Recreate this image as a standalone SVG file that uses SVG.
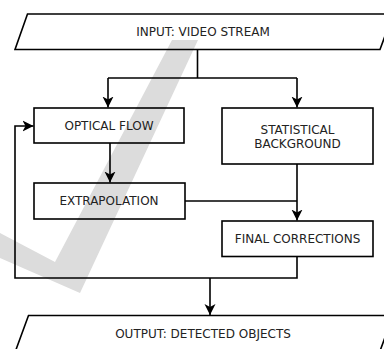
<svg xmlns="http://www.w3.org/2000/svg" width="384" height="349" viewBox="0 0 384 349">
  <style>
    .box { fill: none; stroke: #000; stroke-width: 1.6; }
    .lbl { font-family: "DejaVu Sans", "Liberation Sans", sans-serif; font-size: 12px; fill: #222; text-anchor: middle; }
    .con { fill: none; stroke: #000; stroke-width: 1.6; }
    .wm { fill: #dcdcdc; }
  </style>
  <defs>
    <marker id="arr" markerWidth="12" markerHeight="12" refX="11" refY="6" orient="auto" markerUnits="userSpaceOnUse">
      <path d="M0,0.5 L11,6 L0,11.5 L3,6 z" fill="#000"/>
    </marker>
  </defs>
  <rect width="384" height="349" fill="#fff"/>
  <g id="watermark">
    <polygon class="wm" points="0,233 55,262 172,40 198,40 80,293 0,258"/>
  </g>
  <g id="connectors">
    <path class="con" d="M197.5,49.5 V78"/>
    <path class="con" d="M108,78 H297"/>
    <path class="con" d="M108,78 V107.5" marker-end="url(#arr)"/>
    <path class="con" d="M297,78 V107.5" marker-end="url(#arr)"/>
    <path class="con" d="M110,143 V182.5" marker-end="url(#arr)"/>
    <path class="con" d="M185,201 H297"/>
    <path class="con" d="M297,164 V220.5" marker-end="url(#arr)"/>
    <path class="con" d="M297,256.5 V278 H15 V126 H33.5" marker-end="url(#arr)"/>
    <path class="con" d="M210,278 V315" marker-end="url(#arr)"/>
  </g>
  <g id="input">
    <polygon class="box" points="27.5,14 393,14 380,49.5 15,49.5"/>
    <text class="lbl" x="203" y="35.5">INPUT: VIDEO STREAM</text>
  </g>
  <g id="optical-flow">
    <rect class="box" x="34" y="108" width="150" height="35"/>
    <text class="lbl" x="109" y="130">OPTICAL FLOW</text>
  </g>
  <g id="statistical-background">
    <rect class="box" x="222" y="108" width="151" height="56"/>
    <text class="lbl" x="297.5" y="133.5">STATISTICAL</text>
    <text class="lbl" x="297.5" y="147.5">BACKGROUND</text>
  </g>
  <g id="extrapolation">
    <rect class="box" x="34" y="183" width="151" height="36"/>
    <text class="lbl" x="109" y="205">EXTRAPOLATION</text>
  </g>
  <g id="final-corrections">
    <rect class="box" x="222" y="221" width="151" height="35.5"/>
    <text class="lbl" x="297.5" y="243">FINAL CORRECTIONS</text>
  </g>
  <g id="output">
    <polygon class="box" points="28.5,315.5 393,315.5 380,351 15.5,351"/>
    <text class="lbl" x="203" y="338">OUTPUT: DETECTED OBJECTS</text>
  </g>
</svg>
